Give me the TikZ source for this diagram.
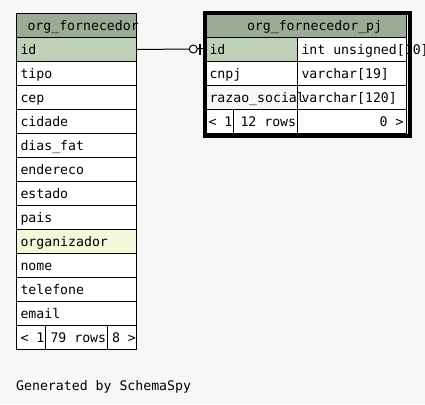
\documentclass[tikz,border=0pt]{standalone}
\usepackage{fontspec}
\usetikzlibrary{calc}
\setmonofont{DejaVu Sans Mono}
\definecolor{pagebg}{HTML}{F7F7F7}
\definecolor{headbg}{HTML}{9BAB96}
\definecolor{pkbg}{HTML}{BED1B8}
\definecolor{idxbg}{HTML}{F4F7DA}
\newcommand{\msp}{\hspace*{0.602em}}
\begin{document}
\begin{tikzpicture}[x=1pt,y=-1pt,
  every node/.style={font=\ttfamily\fontsize{13.2}{15}\selectfont},
  cell/.style={draw=black, line width=1pt, fill=white, anchor=north west,
    minimum height=24pt, inner ysep=0pt, text height=12pt, text depth=2pt, align=left},
  head/.style={cell, fill=headbg},
  pk/.style={cell, fill=pkbg},
  idx/.style={cell, fill=idxbg},
  thickborder/.style={draw=black, line width=4pt, anchor=north west, inner sep=0pt}]
\fill[pagebg] (0,0) rectangle (425,404);
\useasboundingbox (0,0) rectangle (425,404);
% left table
\node[head, minimum width=120pt, text width=98pt, inner xsep=11pt] (fhead) at (16,13) {\mbox{org\_fornecedor}};
\node[pk,  minimum width=120pt, text width=112pt, inner xsep=4pt] (fid) at (16,37) {id};
\node[cell, minimum width=120pt, text width=112pt, inner xsep=4pt] (ftipo) at (16,61) {tipo};
\node[cell, minimum width=120pt, text width=112pt, inner xsep=4pt] (fcep) at (16,85) {cep};
\node[cell, minimum width=120pt, text width=112pt, inner xsep=4pt] (fcidade) at (16,109) {cidade};
\node[cell, minimum width=120pt, text width=112pt, inner xsep=4pt] (fdias) at (16,133) {dias\_fat};
\node[cell, minimum width=120pt, text width=112pt, inner xsep=4pt] (fend) at (16,157) {endereco};
\node[cell, minimum width=120pt, text width=112pt, inner xsep=4pt] (festado) at (16,181) {estado};
\node[cell, minimum width=120pt, text width=112pt, inner xsep=4pt] (fpais) at (16,205) {pais};
\node[idx, minimum width=120pt, text width=112pt, inner xsep=4pt] (forg) at (16,229) {organizador};
\node[cell, minimum width=120pt, text width=112pt, inner xsep=4pt] (fnome) at (16,253) {nome};
\node[cell, minimum width=120pt, text width=112pt, inner xsep=4pt] (ftel) at (16,277) {telefone};
\node[cell, minimum width=120pt, text width=112pt, inner xsep=4pt] (femail) at (16,301) {email};
\node[cell, minimum width=29pt, text width=21pt, inner xsep=4pt] (fpar) at (16,325) {\mbox{<\msp1}};
\node[cell, minimum width=62pt, text width=52pt, inner xsep=5pt] (frows) at (45,325) {\mbox{79\msp rows}};
\node[cell, minimum width=29pt, text width=20pt, inner xsep=4.5pt] (fchi) at (107,325) {\mbox{8\msp>}};
% right table
\node[head, minimum width=201pt, text width=118pt, inner xsep=41.5pt] (phead) at (205,13) {\mbox{org\_fornecedor\_pj}};
\node[pk,  minimum width=92pt, text width=84pt, inner xsep=4pt] (pid) at (205,37) {id};
\node[cell, minimum width=109pt, text width=101pt, inner xsep=4pt] (pidt) at (297,37) {\mbox{int\msp unsigned[10]}};
\node[cell, minimum width=92pt, text width=84pt, inner xsep=4pt] (pcnpj) at (205,61) {cnpj};
\node[cell, minimum width=109pt, text width=101pt, inner xsep=4pt] (pcnpjt) at (297,61) {varchar[19]};
\node[cell, minimum width=109pt, text width=101pt, inner xsep=4pt] (prazaot) at (297,85) {varchar[120]};
\node[cell, minimum width=92pt, text width=84pt, inner xsep=4pt, fill=none] (prazao) at (205,85) {\mbox{razao\_social}};
\node[cell, minimum width=28pt, text width=22pt, inner xsep=3pt] (ppar) at (205,109) {\mbox{<\msp1}};
\node[cell, minimum width=64pt, text width=50pt, inner xsep=7pt] (prows) at (233,109) {\mbox{12\msp rows}};
\node[cell, minimum width=109pt, text width=103pt, inner xsep=3pt, align=right] (pchi) at (297,109) {\mbox{0\msp>}};
\node[thickborder, minimum width=205pt, minimum height=123pt] (pborder) at (203,11) {};
% connector
\coordinate (cl) at (189.3,49);
\coordinate (cr) at (197.3,49);
\coordinate (bt) at (200,44);
\coordinate (bb) at (200,55);
\draw[line width=1pt] (fid.east) -- (cl);
\draw[line width=1pt] (cr) -- (pborder.west |- cr);
\draw[line width=1pt, fill=white] ($(cl)!0.5!(cr)$) circle (4pt);
\draw[line width=2pt] (bt) -- (bb);
% footer
\node[anchor=base west, inner sep=0pt] (gen) at (16,390) {Generated\msp by\msp SchemaSpy};
\end{tikzpicture}
\end{document}
